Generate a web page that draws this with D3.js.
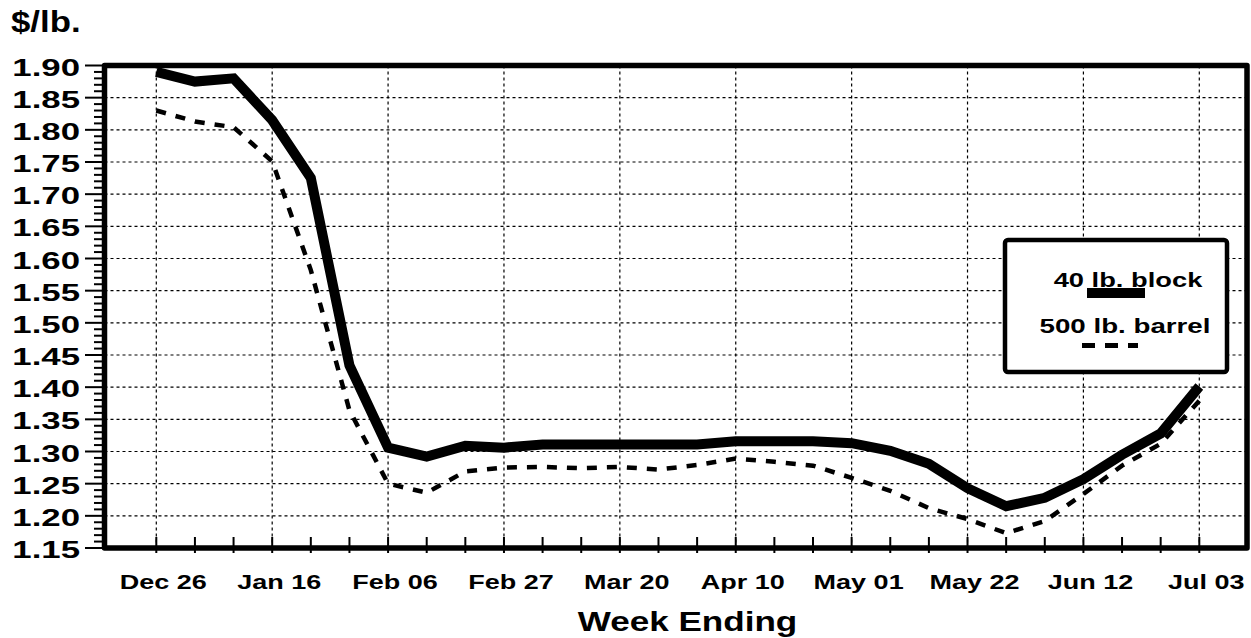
<!DOCTYPE html>
<html>
<head>
    <meta charset="utf-8">
    <style>
        body {
            margin: 0;
            background: white;
            overflow: hidden;
        }
        svg {
            display: block;
            background: white;
        }
        text {
            font-family: "Liberation Sans", Arial, sans-serif;
            font-weight: bold;
            fill: black;
        }
        .grid {
            stroke: black;
            stroke-width: 1.2;
            stroke-dasharray: 3,3;
            fill: none;
        }
    </style>
    <script src="https://d3js.org/d3.v7.min.js"></script>
</head>
<body>
<script>
// week ending dates
const weeks = ["Dec 26", "Jan 02", "Jan 09", "Jan 16", "Jan 23", "Jan 30", "Feb 06",
    "Feb 13", "Feb 20", "Feb 27", "Mar 06", "Mar 13", "Mar 20", "Mar 27", "Apr 03",
    "Apr 10", "Apr 17", "Apr 24", "May 01", "May 08", "May 15", "May 22", "May 29",
    "Jun 05", "Jun 12", "Jun 19", "Jun 26", "Jul 03"];

// 40 lb. block, $/lb.
const block = [1.890, 1.875, 1.880, 1.815, 1.725, 1.434, 1.306, 1.292, 1.309, 1.306,
    1.311, 1.311, 1.311, 1.311, 1.311, 1.316, 1.316, 1.316, 1.313, 1.301, 1.281,
    1.243, 1.215, 1.228, 1.257, 1.295, 1.328, 1.401];

// 500 lb. barrel, $/lb.
const barrel = [1.830, 1.813, 1.804, 1.751, 1.582, 1.364, 1.250, 1.236, 1.269, 1.275,
    1.276, 1.274, 1.276, 1.272, 1.279, 1.289, 1.284, 1.278, 1.259, 1.239, 1.212,
    1.195, 1.173, 1.192, 1.234, 1.278, 1.312, 1.379];

const labelWeeks = ["Dec 26", "Jan 16", "Feb 06", "Feb 27", "Mar 20", "Apr 10",
    "May 01", "May 22", "Jun 12", "Jul 03"];
const yTicks = d3.range(115, 191, 5).map(d => d / 100);
const yMinor = d3.range(115, 191, 1).map(d => d / 100);

const width = 1251, height = 638;
const plotL = 104.5, plotR = 1247, plotT = 65.5, plotB = 548;

const svg = d3.select("body").append("svg")
    .attr("width", width)
    .attr("height", height);

const x = d3.scalePoint()
    .domain(weeks)
    .range([156.3, 1199.3]);

const y = d3.scaleLinear()
    .domain([1.15, 1.90])
    .range([plotB, plotT]);

function label(g, px, py, str, size, sx, anchor) {
    return g.append("text")
        .attr("transform", `translate(${px},${py}) scale(${sx},1)`)
        .attr("text-anchor", anchor)
        .style("font-size", size + "px")
        .text(str);
}

// grid
svg.append("g").selectAll("line")
    .data(yTicks.filter(d => d > 1.15 && d < 1.9))
    .join("line")
    .attr("class", "grid")
    .attr("x1", plotL).attr("x2", plotR)
    .attr("y1", d => y(d)).attr("y2", d => y(d));

svg.append("g").selectAll("line")
    .data(labelWeeks)
    .join("line")
    .attr("class", "grid")
    .attr("x1", d => x(d)).attr("x2", d => x(d))
    .attr("y1", plotT).attr("y2", plotB);

// y ticks
svg.append("g").selectAll("line")
    .data(yMinor)
    .join("line")
    .attr("stroke", "black")
    .attr("stroke-width", 2)
    .attr("x1", d => Math.round(d * 100) % 5 === 0 ? 85 : 94)
    .attr("x2", plotL)
    .attr("y1", d => y(d)).attr("y2", d => y(d));

// x ticks
svg.append("g").selectAll("line")
    .data(weeks)
    .join("line")
    .attr("stroke", "black")
    .attr("stroke-width", 2)
    .attr("x1", d => x(d)).attr("x2", d => x(d))
    .attr("y1", 537).attr("y2", 553);

const line = d3.line()
    .x((d, i) => x(weeks[i]))
    .y(d => y(d));

svg.append("path")
    .datum(barrel)
    .attr("d", line)
    .attr("fill", "none")
    .attr("stroke", "black")
    .attr("stroke-width", 4.5)
    .attr("stroke-dasharray", "10,10");

svg.append("path")
    .datum(block)
    .attr("d", line)
    .attr("fill", "none")
    .attr("stroke", "black")
    .attr("stroke-width", 10)
    .attr("stroke-linejoin", "miter");

// frame
svg.append("rect")
    .attr("x", plotL).attr("y", plotT)
    .attr("width", plotR - plotL).attr("height", plotB - plotT)
    .attr("fill", "none")
    .attr("stroke", "black")
    .attr("stroke-width", 5.5)
    .attr("stroke-linejoin", "round");

// tick labels
const yl = svg.append("g");
yTicks.forEach(d => label(yl, 80, y(d) + 10, d.toFixed(2), 24, 1.45, "end"));

const xl = svg.append("g");
labelWeeks.forEach(d => label(xl, x(d) + 7, 589, d, 20, 1.35, "middle"));

label(svg, 687.5, 631, "Week Ending", 27, 1.3, "middle");
label(svg, 11, 32, "$/lb.", 29, 1.2, "start");

// legend
const lg = svg.append("g");
lg.append("rect")
    .attr("x", 1005).attr("y", 240)
    .attr("width", 222).attr("height", 132)
    .attr("rx", 3)
    .attr("fill", "white")
    .attr("stroke", "black")
    .attr("stroke-width", 4.5);
label(lg, 1128, 287, "40 lb. block", 21, 1.3, "middle");
label(lg, 1125, 333, "500 lb. barrel", 21, 1.32, "middle");
lg.append("line")
    .attr("x1", 1087).attr("x2", 1145)
    .attr("y1", 293).attr("y2", 293)
    .attr("stroke", "black").attr("stroke-width", 10);
lg.append("line")
    .attr("x1", 1082).attr("x2", 1138)
    .attr("y1", 345.5).attr("y2", 345.5)
    .attr("stroke", "black").attr("stroke-width", 5)
    .attr("stroke-dasharray", "13,10");
</script>
</body>
</html>
